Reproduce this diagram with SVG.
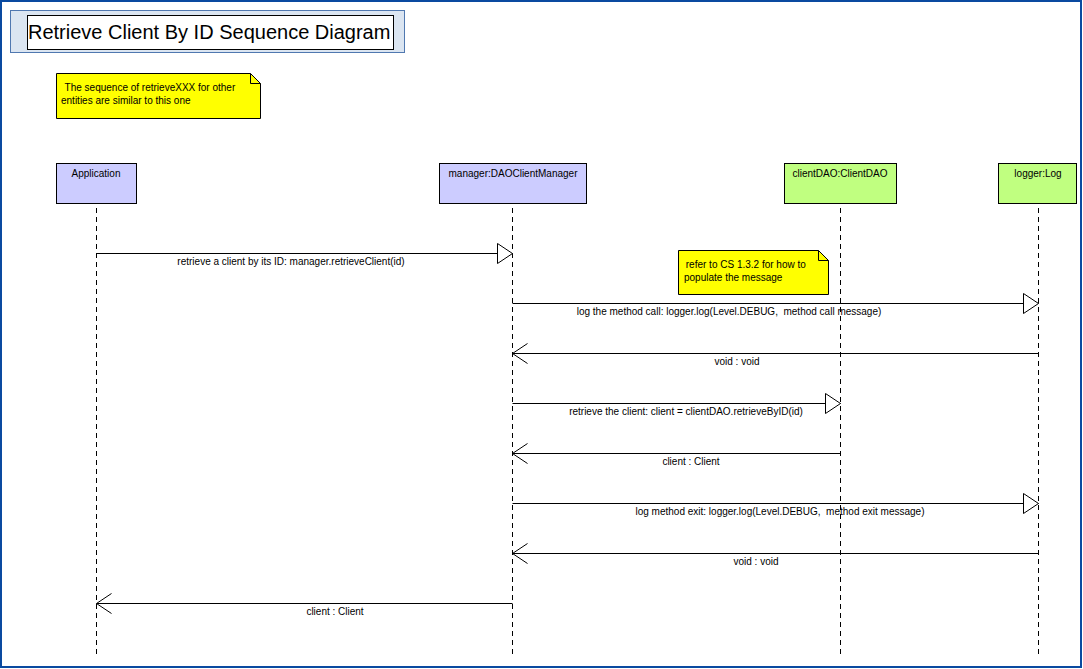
<svg xmlns="http://www.w3.org/2000/svg" width="1083" height="669" viewBox="0 0 1083 669">
<style>
text{font-family:"Liberation Sans",Arial,sans-serif;font-size:10px;fill:#000;white-space:pre}
.lbl{text-anchor:middle}
.box{stroke:#000;stroke-width:1}
.actor{fill:#ccccff}
.obj{fill:#c0ff80}
.life{stroke:#000;stroke-width:1;stroke-dasharray:5,4;fill:none}
.note{fill:#ffff00;stroke:#000;stroke-width:1}
.msg{stroke:#000;stroke-width:1;fill:none}
.call{marker-end:url(#tri)}
.ret{marker-end:url(#open)}
</style>
<defs>
<marker id="tri" markerUnits="userSpaceOnUse" viewBox="-1 -1 18 24" markerWidth="18" markerHeight="24" refX="15" refY="10" orient="auto" overflow="visible">
<path d="M0,0 L15,10 L0,20 Z" fill="#fff" stroke="#000" stroke-width="1"/>
</marker>
<marker id="open" markerUnits="userSpaceOnUse" viewBox="-1 -1 18 24" markerWidth="18" markerHeight="24" refX="15" refY="10" orient="auto" overflow="visible">
<path d="M0,0 L15,10 L0,20" fill="none" stroke="#000" stroke-width="1"/>
</marker>
</defs>
<rect x="0" y="0" width="1083" height="669" fill="#fff"/>
<rect x="1" y="1" width="1080" height="666" fill="none" stroke="#0a4aa0" stroke-width="2"/>

<g id="title">
<rect x="10.5" y="10.5" width="394" height="42" fill="#dbe5f1" stroke="#5078b0"/>
<rect x="27.5" y="15.5" width="366" height="34" fill="#fff" stroke="#000"/>
<text x="28" y="39" style="font-size:20px">Retrieve Client By ID Sequence Diagram</text>
</g>

<g id="note1">
<path class="note" d="M56.5,73.5 H250.5 L260.5,83.5 V118.5 H56.5 Z"/>
<path d="M250.5,73.5 V83.5 H260.5" fill="none" stroke="#000"/>
<text x="62" y="91"> The sequence of retrieveXXX for other</text>
<text x="61" y="104">entities are similar to this one</text>
</g>

<g id="application">
<rect class="box actor" x="56.5" y="163.5" width="80" height="40"/>
<text class="lbl" x="96" y="177">Application</text>
<line class="life" x1="96.5" y1="208" x2="96.5" y2="658"/>
</g>

<g id="manager">
<rect class="box actor" x="439.5" y="163.5" width="147" height="40"/>
<text class="lbl" x="513" y="177">manager:DAOClientManager</text>
<line class="life" x1="512.5" y1="208" x2="512.5" y2="658"/>
</g>

<g id="clientDAO">
<rect class="box obj" x="784.5" y="163.5" width="112" height="40"/>
<text class="lbl" x="840" y="177">clientDAO:ClientDAO</text>
<line class="life" x1="840.5" y1="208" x2="840.5" y2="658"/>
</g>

<g id="logger">
<rect class="box obj" x="998.5" y="163.5" width="78" height="40"/>
<text class="lbl" x="1038" y="177">logger:Log</text>
<line class="life" x1="1038.5" y1="208" x2="1038.5" y2="658"/>
</g>

<g id="note2">
<path class="note" d="M678.5,250.5 H818.5 L828.5,260.5 V294.5 H678.5 Z"/>
<path d="M818.5,250.5 V260.5 H828.5" fill="none" stroke="#000"/>
<text x="683" y="268"> refer to CS 1.3.2 for how to</text>
<text x="684" y="281">populate the message</text>
</g>

<g id="connectors">
<path class="msg call" d="M96.5,253.5 H512.5"/>
<text class="lbl" x="291" y="265">retrieve a client by its ID: manager.retrieveClient(id)</text>
<path class="msg call" d="M512.5,303.5 H1038.5"/>
<text class="lbl" x="729" y="315">log the method call: logger.log(Level.DEBUG,  method call message)</text>
<path class="msg ret" d="M1038.5,353.5 H512.5"/>
<text class="lbl" x="737" y="365">void : void</text>
<path class="msg call" d="M512.5,403.5 H840.5"/>
<text class="lbl" x="686" y="415">retrieve the client: client = clientDAO.retrieveByID(id)</text>
<path class="msg ret" d="M840.5,453.5 H512.5"/>
<text class="lbl" x="691" y="465">client : Client</text>
<path class="msg call" d="M512.5,503.5 H1038.5"/>
<text class="lbl" x="780" y="515">log method exit: logger.log(Level.DEBUG,  method exit message)</text>
<path class="msg ret" d="M1038.5,553.5 H512.5"/>
<text class="lbl" x="756" y="565">void : void</text>
<path class="msg ret" d="M512.5,603.5 H96.5"/>
<text class="lbl" x="335" y="615">client : Client</text>
</g>
</svg>
